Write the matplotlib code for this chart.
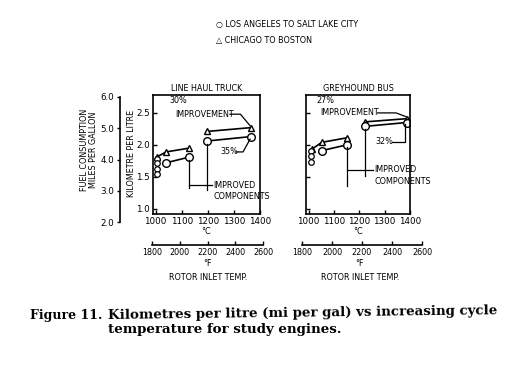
import matplotlib.pyplot as plt

# --- data ---
# line haul truck
truck_tri_low_t = [1004, 1040, 1129]
truck_tri_low_v = [1.81, 1.89, 1.95]
truck_tri_high_t = [1196, 1365]
truck_tri_high_v = [2.21, 2.27]
truck_circ_low_t = [1040, 1129]
truck_circ_low_v = [1.72, 1.81]
truck_circ_high_t = [1196, 1365]
truck_circ_high_v = [2.06, 2.13]
truck_cluster_t = [1004, 1004, 1004, 1004]
truck_cluster_v = [1.78, 1.71, 1.63, 1.55]

# greyhound bus
bus_tri_low_t = [1012, 1052, 1150]
bus_tri_low_v = [1.93, 2.04, 2.11]
bus_tri_high_t = [1223, 1387]
bus_tri_high_v = [2.36, 2.41]
bus_circ_low_t = [1052, 1150]
bus_circ_low_v = [1.91, 2.00]
bus_circ_high_t = [1223, 1387]
bus_circ_high_v = [2.29, 2.35]
bus_cluster_t = [1008, 1008, 1008]
bus_cluster_v = [1.90, 1.82, 1.74]

c_ticks = [1000, 1100, 1200, 1300, 1400]
f_ticks = [1800, 2000, 2200, 2400, 2600]
kml_ticks = [1.0, 1.5, 2.0, 2.5]
mpg_ticks = [2.0, 3.0, 4.0, 5.0, 6.0]
mpg_labels = ['2.0', '3.0', '4.0', '5.0', '6.0']

W, H = 527, 378
FONT = 'DejaVu Sans'
fs = 5.8


def box(l, t, r, b):
    return [l / W, 1 - b / H, (r - l) / W, (b - t) / H]


fig = plt.figure(figsize=(W / 100, H / 100), dpi=100)
fig.patch.set_facecolor('white')

ax1 = fig.add_axes(box(153, 95, 260, 214))
ax2 = fig.add_axes(box(306, 95, 410, 214))

mk = dict(color='black', lw=1.2, markerfacecolor='white', markeredgecolor='black',
          markeredgewidth=1.0)


def draw_panel(ax, tri_lo, tri_hi, circ_lo, circ_hi, cluster):
    ax.plot(tri_lo[0], tri_lo[1], marker='^', ms=5, **mk)
    ax.plot(tri_hi[0], tri_hi[1], marker='^', ms=5, **mk)
    ax.plot(circ_lo[0], circ_lo[1], marker='o', ms=5.5, **mk)
    ax.plot(circ_hi[0], circ_hi[1], marker='o', ms=5.5, **mk)
    ax.plot(cluster[0], cluster[1], ls='none', marker='o', ms=4,
            markerfacecolor='white', markeredgecolor='black', markeredgewidth=0.9)
    ax.set_xlim(990, 1400)
    ax.set_ylim(0.92, 2.78)
    ax.set_xticks(c_ticks)
    ax.set_yticks(kml_ticks)
    ax.tick_params(direction='in', length=3, width=1, labelsize=fs + 0.5, pad=2)
    for s in ax.spines.values():
        s.set_linewidth(1.2)
    ax.set_xlabel('°C', fontsize=fs, labelpad=1, family=FONT)


draw_panel(ax1, (truck_tri_low_t, truck_tri_low_v), (truck_tri_high_t, truck_tri_high_v),
           (truck_circ_low_t, truck_circ_low_v), (truck_circ_high_t, truck_circ_high_v),
           (truck_cluster_t, truck_cluster_v))
draw_panel(ax2, (bus_tri_low_t, bus_tri_low_v), (bus_tri_high_t, bus_tri_high_v),
           (bus_circ_low_t, bus_circ_low_v), (bus_circ_high_t, bus_circ_high_v),
           (bus_cluster_t, bus_cluster_v))
ax1.set_yticklabels(['1.0', '1.5', '2.0', '2.5'])
ax2.set_yticklabels([])

ax1.set_title('LINE HAUL TRUCK', fontsize=fs, pad=3, family=FONT)
ax2.set_title('GREYHOUND BUS', fontsize=fs, pad=3, family=FONT)

# annotations, line haul truck
ln = dict(color='black', lw=0.9)
ax1.text(1086, 2.69, '30%', fontsize=fs, ha='center', va='center')
ax1.text(1074, 2.48, 'IMPROVEMENT', fontsize=fs, ha='left', va='center')
ax1.plot([1285, 1325, 1362], [2.48, 2.48, 2.30], **ln)
ax1.text(1282, 1.89, '35%', fontsize=fs, ha='center', va='center')
ax1.plot([1308, 1335, 1362], [1.89, 1.89, 2.09], **ln)
ax1.plot([1129, 1129], [1.77, 1.32], **ln)
ax1.plot([1196, 1196], [2.02, 1.29], **ln)
ax1.plot([1129, 1215], [1.37, 1.37], **ln)
ax1.text(1220, 1.37, 'IMPROVED', fontsize=fs, ha='left', va='center', clip_on=False)
ax1.text(1222, 1.19, 'COMPONENTS', fontsize=fs, ha='left', va='center', clip_on=False)

# annotations, greyhound bus
ax2.text(1067, 2.70, '27%', fontsize=fs, ha='center', va='center')
ax2.text(1045, 2.50, 'IMPROVEMENT', fontsize=fs, ha='left', va='center')
ax2.plot([1272, 1345, 1385], [2.50, 2.50, 2.44], **ln)
ax2.text(1300, 2.05, '32%', fontsize=fs, ha='center', va='center')
ax2.plot([1328, 1382, 1382], [2.05, 2.05, 2.32], **ln)
ax2.plot([1150, 1150], [1.96, 1.35], **ln)
ax2.plot([1223, 1223], [2.25, 1.51], **ln)
ax2.plot([1150, 1255], [1.61, 1.61], **ln)
ax2.text(1260, 1.61, 'IMPROVED', fontsize=fs, ha='left', va='center', clip_on=False)
ax2.text(1262, 1.43, 'COMPONENTS', fontsize=fs, ha='left', va='center', clip_on=False)

# km per litre label
fig.text(131 / W, 1 - 153 / H, 'KILOMETRE PER LITRE', rotation=90, fontsize=fs,
         ha='center', va='center', family=FONT)

# miles per gallon axis
axm = fig.add_axes(box(120, 97, 121, 222))
axm.set_ylim(2.0, 6.0)
axm.set_yticks(mpg_ticks)
axm.set_yticklabels(mpg_labels)
axm.set_xticks([])
for k in ['top', 'right', 'bottom']:
    axm.spines[k].set_visible(False)
axm.spines['left'].set_linewidth(1.2)
axm.patch.set_alpha(0)
axm.tick_params(direction='out', length=2, width=1, labelsize=fs + 0.5, pad=2)
fig.text(89 / W, 1 - 150 / H, 'FUEL CONSUMPTION\nMILES PER GALLON', rotation=90,
         fontsize=fs, ha='center', va='center', linespacing=1.1, family=FONT)

# Fahrenheit scales
for l, r, cx in [(152, 263, 208), (302, 422, 360)]:
    axf = fig.add_axes(box(l, 240, r, 245))
    axf.set_xlim(1800, 2600)
    axf.set_xticks(f_ticks)
    axf.set_yticks([])
    for k in ['top', 'right', 'left']:
        axf.spines[k].set_visible(False)
    axf.spines['bottom'].set_linewidth(1.2)
    axf.patch.set_alpha(0)
    axf.tick_params(direction='in', length=3, width=1, labelsize=fs, pad=2)
    fig.text(cx / W, 1 - 264 / H, '°F', fontsize=fs, ha='center', va='center')
    fig.text(cx / W, 1 - 277 / H, 'ROTOR INLET TEMP.', fontsize=fs, ha='center', va='center')

# legend
fig.text(216 / W, 1 - 25 / H, '○ LOS ANGELES TO SALT LAKE CITY', fontsize=fs,
         ha='left', va='center', family=FONT)
fig.text(216 / W, 1 - 40 / H, '△ CHICAGO TO BOSTON', fontsize=fs,
         ha='left', va='center', family=FONT)

# caption
cap = dict(family='DejaVu Serif', fontweight='bold', va='center', ha='left')
fig.text(30 / W, 1 - 316 / H, 'Figure 11.', fontsize=9, **cap)
fig.text(108 / W, 1 - 316 / H, 'Kilometres per litre (mi per gal) vs increasing cycle',
         rotation=0.7, rotation_mode='anchor', fontsize=9.6, **cap)
fig.text(108 / W, 1 - 330 / H, 'temperature for study engines.', fontsize=9.6, **cap)

fig.savefig('out.png', dpi=100, facecolor='white')
